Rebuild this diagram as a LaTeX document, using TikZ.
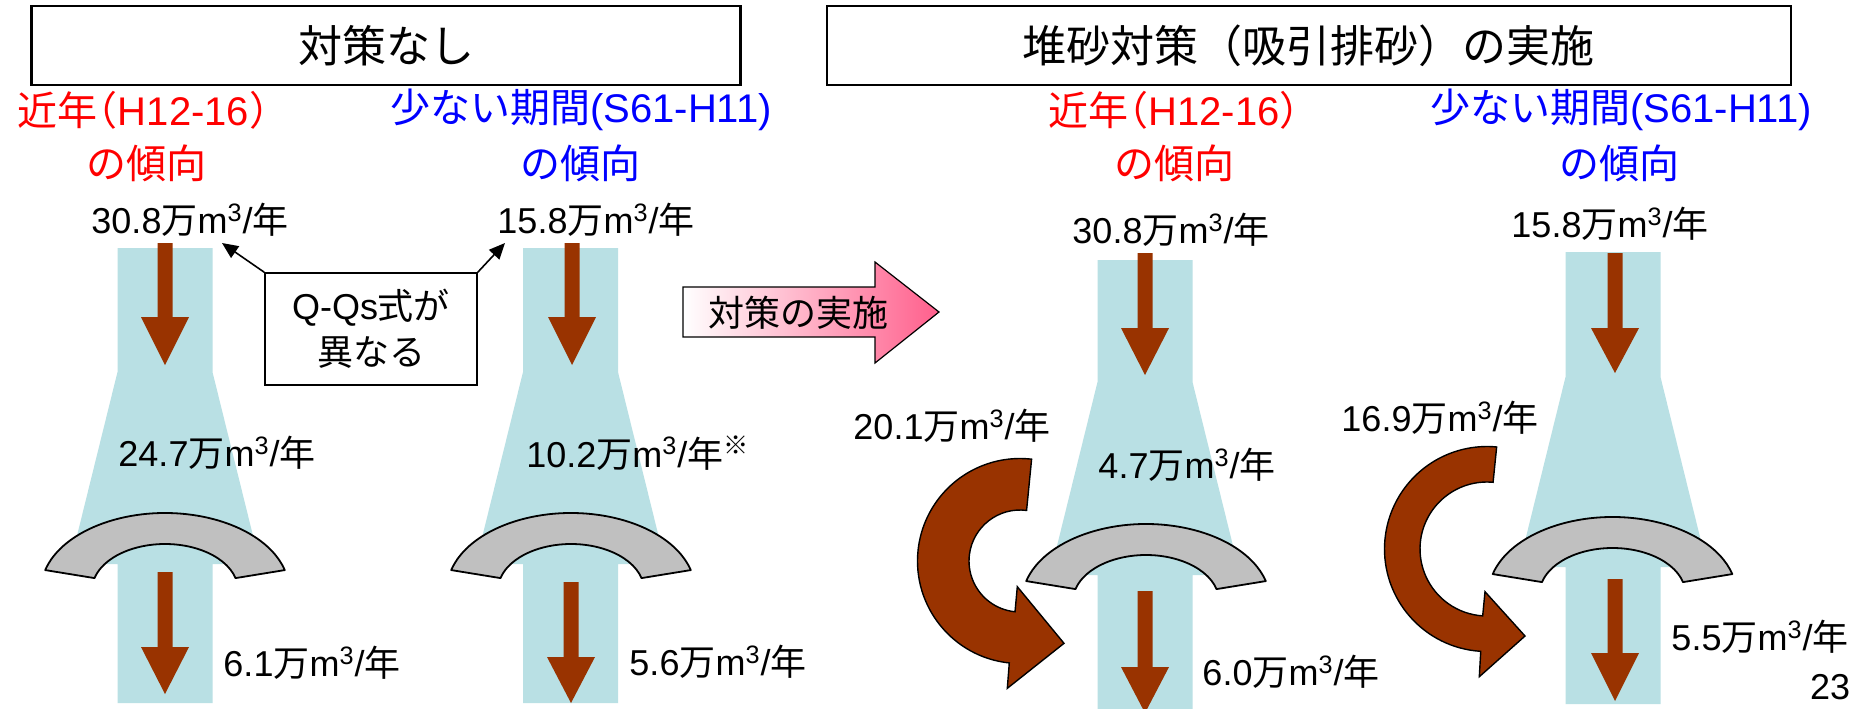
\documentclass[tikz,border=0pt]{standalone}
\usepackage{fontspec}
\setmainfont{Liberation Sans}
\newfontfamily\jp{Noto Sans CJK JP}
\newfontfamily\jph{Noto Sans CJK JP}[RawFeature=+halt]
\newcommand{\J}[1]{{\jp #1}}
\newcommand{\JH}[1]{{\jph #1}}
\newcommand{\vol}[1]{#1\J{万}m\textsuperscript{3}/\J{年}}
\usetikzlibrary{arrows.meta}
\definecolor{stripc}{RGB}{185,224,228}
\definecolor{brn}{RGB}{153,51,0}
\definecolor{gry}{RGB}{192,192,192}
\definecolor{pnk}{RGB}{255,95,140}
% column of water: cx, top, trapezoid start, trapezoid end, bottom, half width at trapezoid end
\newcommand{\wcol}[6]{\fill[stripc] (#1-47.5,#2) -- (#1+47.5,#2) -- (#1+47.5,#3) -- (#1+#6,#4) -- (#1+47.5,#4) -- (#1+47.5,#5) -- (#1-47.5,#5) -- (#1-47.5,#4) -- (#1-#6,#4) -- (#1-47.5,#3) -- cycle;}
% brown block arrow: cx, top, head start, tip
\newcommand{\barr}[4]{\fill[brn] (#1-7.5,#2) -- (#1+7.5,#2) -- (#1+7.5,#3) -- (#1+24,#3) -- (#1,#4) -- (#1-24,#3) -- (#1-7.5,#3) -- cycle;}
% weir (block arc): cx, cy
\newcommand{\weir}[2]{\filldraw[weirst] ([shift={(#1,#2)}]195:124 and 77) arc[start angle=195,end angle=345,x radius=124,y radius=77] -- ([shift={(#1,#2)}]345:73 and 46) arc[start angle=345,end angle=195,x radius=73,y radius=46] -- cycle;}
\begin{document}
\begin{tikzpicture}[x=0.5pt,y=-0.5pt,
  lbl/.style={font=\fontsize{18}{22}\selectfont, inner sep=0pt},
  headtxt/.style={font=\fontsize{20}{24}\selectfont, inner sep=0pt},
  ttl/.style={draw, line width=1.2pt, inner sep=0pt, font=\fontsize{22}{26}\selectfont},
  qbox/.style={draw, line width=0.8pt, inner sep=0pt, align=center, font=\fontsize{18}{23}\selectfont},
  qarr/.style={line width=0.8pt, -{Triangle[length=8pt,width=7pt]}},
  weirst/.style={fill=gry, draw=black, line width=0.9pt, line join=round},
  curvst/.style={fill=brn, draw=black, line width=0.7pt, line join=miter}]
\useasboundingbox (0,0) rectangle (1863,708);
\clip (0,0) rectangle (1863,708);
\fill[white] (0,0) rectangle (1863,708);

% water columns
\wcol{165}{248}{372}{564}{703}{95}
\wcol{570.5}{248}{372}{564}{703}{95}
\wcol{1145}{260}{382}{575}{712}{95.2}
\wcol{1613}{252}{377}{567}{704}{94.4}

% sediment flow arrows
\barr{165}{243}{317}{365}
\barr{572}{243}{317}{365}
\barr{1145}{253}{328}{375}
\barr{1615}{253}{328}{373}
\barr{165}{572}{647}{694}
\barr{571}{582}{657}{703}
\barr{1145}{591}{667}{713}
\barr{1615}{579}{653}{701}

% weirs
\weir{165}{590}
\weir{571}{590}
\weir{1146}{601}
\weir{1612.5}{594}

% bypass (suction) curved arrows
\filldraw[curvst] ([shift={(1020,561)}]96:102.5) arc[start angle=96,end angle=276.5,radius=102.5]
  -- ([shift={(1020,561)}]277.4:51) arc[start angle=277.4,end angle=95.6,radius=51]
  -- (1017.3,586.7) -- (1064,643.3) -- (1007.3,688.3) -- cycle;
\filldraw[curvst] ([shift={(1487,549)}]93.5:102.5) arc[start angle=93.5,end angle=275.4,radius=102.5]
  -- ([shift={(1487,549)}]275.2:67) arc[start angle=275.2,end angle=93.7,radius=67]
  -- (1485,591.7) -- (1525,636) -- (1479.3,676.7) -- cycle;

% action arrow
\path[draw=black, line width=0.6pt, left color=white, right color=pnk]
  (683,287) -- (875,287) -- (875,262) -- (939,312) -- (875,363) -- (875,337) -- (683,337) -- cycle;
\node[lbl] (act) at (798,313) {\J{対策の実施}};

% title boxes
\node[ttl, minimum width=354.5pt, minimum height=39.5pt] (t1) at (386,45.5) {\J{対策なし}};
\node[ttl, minimum width=482pt, minimum height=39.5pt] (t2) at (1308.7,45.5) {\J{堆砂対策（吸引排砂）の実施}};

% headings
\node[headtxt, red] (h1) at (143.5,110) {\J{近年}\JH{（}H12-16\JH{）}};
\node[headtxt, red] (h1b) at (146,163) {\J{の傾向}};
\node[headtxt, blue] (h2) at (581,110) {\J{少ない期間}(S61-H11)};
\node[headtxt, blue] (h2b) at (580,163) {\J{の傾向}};
\node[headtxt, red] (h3) at (1174,110) {\J{近年}\JH{（}H12-16\JH{）}};
\node[headtxt, red] (h3b) at (1174,163) {\J{の傾向}};
\node[headtxt, blue] (h4) at (1621,110) {\J{少ない期間}(S61-H11)};
\node[headtxt, blue] (h4b) at (1619,163) {\J{の傾向}};

% values
\node[lbl] (v1) at (190,220) {\vol{30.8}};
\node[lbl] (v2) at (596,220) {\vol{15.8}};
\node[lbl] (v3) at (1171,230) {\vol{30.8}};
\node[lbl] (v4) at (1610,224) {\vol{15.8}};
\node[lbl] (m1) at (217,453) {\vol{24.7}};
\node[lbl] (m2) at (638,453) {\vol{10.2}\textsuperscript{\J{※}}};
\node[lbl] (o1) at (312,663) {\vol{6.1}};
\node[lbl] (o2) at (718,662) {\vol{5.6}};
\node[lbl] (b3) at (952,426) {\vol{20.1}};
\node[lbl] (m3) at (1187,465) {\vol{4.7}};
\node[lbl] (o3) at (1291,672) {\vol{6.0}};
\node[lbl] (b4) at (1440,418) {\vol{16.9}};
\node[lbl] (o4) at (1760,637) {\vol{5.5}};
\node[lbl] (pg) at (1830,687) {23};

% Q-Qs note
\node[qbox, minimum width=106pt, minimum height=56pt] (qq) at (371,329) {Q-Qs\J{式が}\\\J{異なる}};
\coordinate (qa) at (222,243);
\coordinate (qb) at (505,243);
\draw[qarr] (qq.north west) -- (qa);
\draw[qarr] (qq.north east) -- (qb);
\end{tikzpicture}
\end{document}
